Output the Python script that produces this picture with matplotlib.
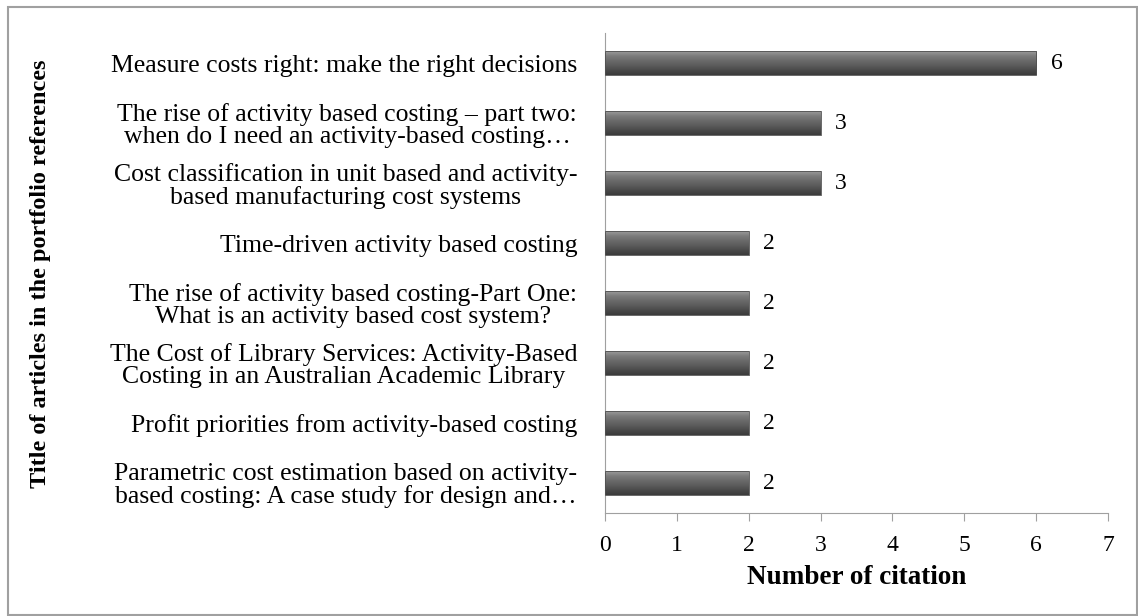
import numpy as np
import matplotlib
matplotlib.use("Agg")
import matplotlib.pyplot as plt
from matplotlib.colors import LinearSegmentedColormap
from matplotlib.patches import Rectangle

# article titles (top to bottom) and citation counts
titles = [
    "Measure costs right: make the right decisions",
    "The rise of activity based costing \u2013 part two:\nwhen do I need an activity-based costing\u2026",
    "Cost classification in unit based and activity-\nbased manufacturing cost systems",
    "Time-driven activity based costing",
    "The rise of activity based costing-Part One:\nWhat is an activity based cost system?",
    "The Cost of Library Services: Activity-Based\nCosting in an Australian Academic Library",
    "Profit priorities from activity-based costing",
    "Parametric cost estimation based on activity-\nbased costing: A case study for design and\u2026",
]
citations = [6, 3, 3, 2, 2, 2, 2, 2]
x_ticks = [0, 1, 2, 3, 4, 5, 6, 7]

plt.rcParams['font.family'] = ['Liberation Serif', 'DejaVu Serif']

fig = plt.figure(figsize=(11.38, 6.16), dpi=100)
ax = fig.add_axes([0.5316, 0.1672, 0.4421, 0.7792])

ypos = np.arange(len(titles))
bar_h = 0.4
bars = ax.barh(ypos, citations, height=bar_h, color='#666666', edgecolor='none')

# cylinder-like shading on each bar
cmap = LinearSegmentedColormap.from_list(
    'cyl', ['#9a9a9a', '#7c7c7c', '#6a6a6a', '#5c5c5c', '#4a4a4a', '#3c3c3c'])
grad = np.linspace(0, 1, 64).reshape(-1, 1)
for b in bars:
    x0, y0, w, h = b.get_x(), b.get_y(), b.get_width(), b.get_height()
    ax.imshow(grad, cmap=cmap, aspect='auto', extent=[x0, x0 + w, y0 + h, y0],
              zorder=3)
    ax.add_patch(Rectangle((x0, y0), w, h, fill=False, edgecolor='#505050',
                           lw=0.6, zorder=4))
    ax.text(w + 0.2, b.get_y() + h / 2, str(int(w)), va='center', ha='left',
            fontsize=17)

ax.set_ylim(len(titles) - 0.5, -0.5)
ax.set_xlim(0, 7)
ax.set_xticks(x_ticks)
ax.set_yticks(ypos)
ax.set_yticklabels(titles, fontsize=18.5, multialignment='center',
                   linespacing=1.02)
ax.tick_params(axis='y', length=0, pad=20)
ax.tick_params(axis='x', labelsize=17, length=6, color='#a0a0a0', pad=10)
for s in ['top', 'right']:
    ax.spines[s].set_visible(False)
for s in ['left', 'bottom']:
    ax.spines[s].set_color('#a0a0a0')

ax.set_xlabel('Number of citation', fontsize=19.5, fontweight='bold', labelpad=6)
fig.text(0.036, 0.556, 'Title of articles in the portfolio references',
         rotation=90, fontsize=17.5, fontweight='bold', ha='center', va='center')

fig.patches.append(Rectangle((0.007, 0.002), 0.992, 0.986, transform=fig.transFigure,
                             fill=False, edgecolor='#a0a0a0', lw=1.5))

fig.savefig('out.png', dpi=100)
